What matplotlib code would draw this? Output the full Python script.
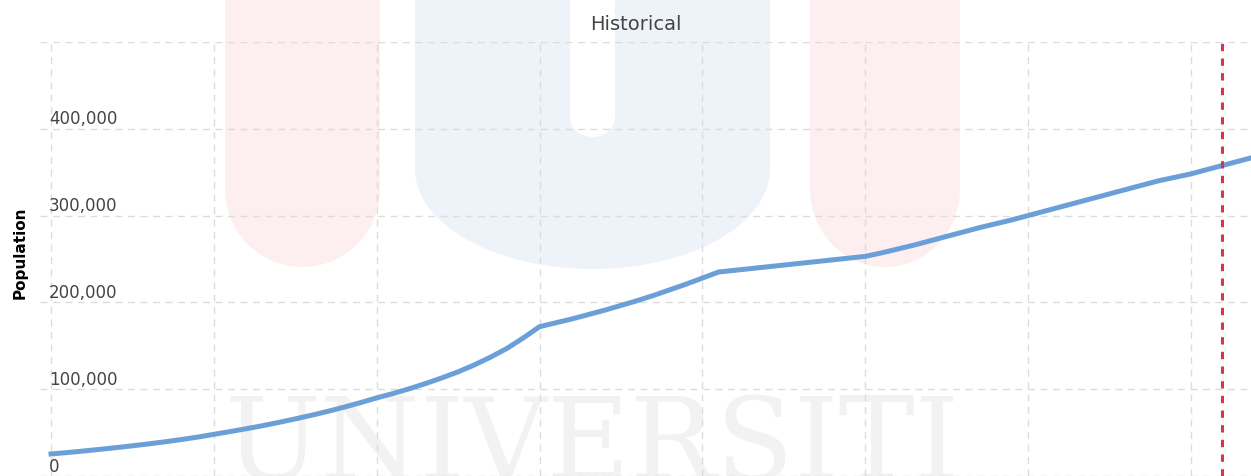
import numpy as np
from matplotlib import pyplot as plt
from matplotlib.patches import Rectangle, Ellipse

# population by year
years = list(range(1950, 2025))
population = [
    25400, 27000, 28800, 30700, 32700, 34800, 37000, 39400, 42000, 44800,
    48000, 51200, 54500, 58000, 61800, 65800, 70000, 74500, 79300, 84500,
    90000, 95000, 100500, 106500, 113000, 120000, 128000, 137000, 147000, 159000,
    172000, 176500, 181000, 186000, 191000, 196500, 202000, 208000, 214500, 221000,
    228000, 235000, 237000, 239000, 241000, 243000, 245000, 247000, 249000, 251000,
    253000, 257000, 261500, 266000, 271000, 276000, 281000, 286000, 290500, 295000,
    300000, 305000, 310000, 315000, 320000, 325000, 330000, 335000, 340000, 344000,
    348000, 353000, 358000, 363000, 368000,
]
year_ticks = list(range(1950, 2030, 10))
pop_ticks = [0, 100000, 200000, 300000, 400000, 500000]
pop_labels = ['0', '100,000', '200,000', '300,000', '400,000']
current_year = 2021.9

W, H = 1251, 477
fig = plt.figure(figsize=(W / 100, H / 100), dpi=100)
ax = fig.add_axes([40 / W, 0, 1 - 40 / W, 434 / H])

# faint logo watermark behind the chart (pixel coords, y from top)
bg = fig.add_axes([0, 0, 1, 1], zorder=-1)
bg.set_xlim(0, W)
bg.set_ylim(H, 0)
bg.axis('off')
pink, blue = '#fdeff0', '#eef3f9'
for x0, x1 in [(225, 380), (810, 960)]:
    bg.add_patch(Rectangle((x0, -5), x1 - x0, 195, color=pink, lw=0))
    bg.add_patch(Ellipse(((x0 + x1) / 2, 190), x1 - x0, 156, color=pink, lw=0))
bg.add_patch(Rectangle((415, -5), 355, 175, color=blue, lw=0))
bg.add_patch(Ellipse((592.5, 170), 355, 200, color=blue, lw=0))
bg.add_patch(Rectangle((570, -5), 45, 123, color='white', lw=0))
bg.add_patch(Ellipse((592.5, 118), 45, 40, color='white', lw=0))
bg.text(592, 479, 'UNIVERSITI', family='DejaVu Serif', fontsize=82,
        color='#f2f2f2', ha='center', va='baseline')
ax.patch.set_alpha(0)

ax.plot(years, population, color='#6a9fd8', linewidth=3.6, solid_joinstyle='round',
        zorder=3)
ax.axvline(current_year, color='#d8354b', linewidth=2.2, linestyle=(0, (2.4, 2.4)),
           zorder=4)

ax.set_xlim(1949.32, 2023.7)
ax.set_ylim(0, 500000)
ax.set_xticks(year_ticks)
ax.set_yticks(pop_ticks)
ax.grid(True, color='#dcdcdc', linestyle=(0, (5, 4)), linewidth=1)
ax.tick_params(length=0, labelbottom=False, labelleft=False)
for s in ax.spines.values():
    s.set_visible(False)

for v, lab in zip(pop_ticks, pop_labels):
    ax.text(0.0075, v + 1500, lab, transform=ax.get_yaxis_transform(),
            fontsize=12, color='#444444', ha='left', va='bottom')

fig.text(636 / W, 1 - 24 / H, 'Historical', fontsize=14, color='#444444',
         ha='center', va='center')
fig.text(20 / W, 1 - 253 / H, 'Population', fontsize=11, fontweight='bold',
         rotation=90, ha='center', va='center', color='black')

fig.savefig('out.png', dpi=100)
